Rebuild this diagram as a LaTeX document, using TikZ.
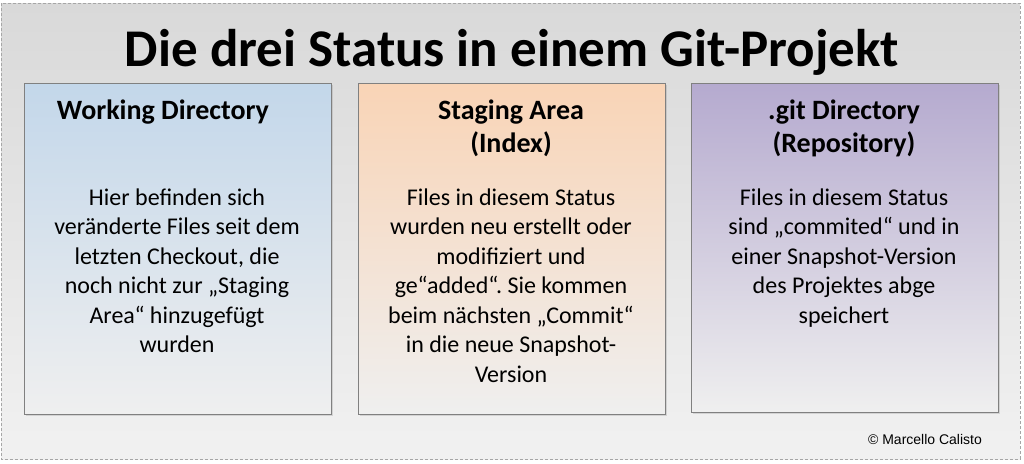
\documentclass[tikz,border=0pt]{standalone}
\usepackage{fontspec}
\setmainfont{Carlito}
\newfontfamily\arialfont{Liberation Sans}
\usetikzlibrary{shadows}
\frenchspacing

\definecolor{wdblue}{HTML}{C3D7EA}
\definecolor{sapeach}{HTML}{F9D4B6}
\definecolor{gitlila}{HTML}{B5AACF}
\definecolor{boxbottom}{HTML}{EFEFEF}
\definecolor{boxline}{HTML}{808080}
\definecolor{bgtop}{HTML}{D9D9D9}
\definecolor{bgbottom}{HTML}{F1F1F1}
\definecolor{frameline}{HTML}{A6A6A6}

\tikzset{
  statusbox/.style={draw=boxline, line width=0.8pt, shading=axis,
    drop shadow={shadow xshift=2pt, shadow yshift=-2pt, opacity=0.25}},
  titletext/.style={font=\fontsize{53}{56}\selectfont\bfseries, anchor=base, inner sep=0pt},
  headtext/.style={font=\fontsize{28}{33.5}\selectfont\bfseries, align=center, anchor=north, inner sep=0pt},
  bodytext/.style={font=\fontsize{24}{29.5}\selectfont, align=center, anchor=north, inner sep=0pt}
}

\begin{document}
\begin{tikzpicture}[x=1pt,y=-1pt]
    \useasboundingbox (0,0) rectangle (1024,463);

    % Background with dashed frame
    \fill[white] (0,0) rectangle (1024,463);
    \shade[top color=bgtop, bottom color=bgbottom] (1,3) rectangle (1020,459);
    \draw[frameline, line width=0.6pt, dash pattern=on 3pt off 2pt] (1,3) rectangle (1020,459);

    % Title
    \node[titletext] (title) at (512,66.5) {Die drei Status in einem Git-Projekt};

    % Draw the three boxes
    \draw[statusbox, top color=wdblue, bottom color=boxbottom] (24,83) rectangle (331,414);
    \draw[statusbox, top color=sapeach, bottom color=boxbottom] (358,83) rectangle (665,414);
    \draw[statusbox, top color=gitlila, bottom color=boxbottom] (691,83) rectangle (998,412);

    % Headings
    \node[headtext] (workhead) at (163,99.5) {Working Directory};
    \node[headtext] (stagehead) at (511,99.5) {Staging Area\\(Index)};
    \node[headtext] (repohead) at (844,99.5) {.git Directory\\(Repository)};

    % Box texts
    \node[bodytext] (worktext) at (177,188.5) {Hier befinden sich\\veränderte Files seit dem\\letzten Checkout, die\\noch nicht zur „Staging\\Area“ hinzugefügt\\wurden};
    \node[bodytext] (stagetext) at (511,188.5) {Files in diesem Status\\wurden neu erstellt oder\\modifiziert und\\ge“added“. Sie kommen\\beim nächsten „Commit“\\in die neue Snapshot-\\Version};
    \node[bodytext] (repotext) at (844,188.5) {Files in diesem Status\\sind „commited“ und in\\einer Snapshot-Version\\des Projektes abge\\speichert};

    % Copyright
    \node[anchor=base, inner sep=0pt, font=\arialfont\fontsize{14}{16}\selectfont] (copy) at (925,444) {© Marcello Calisto};
\end{tikzpicture}
\end{document}
